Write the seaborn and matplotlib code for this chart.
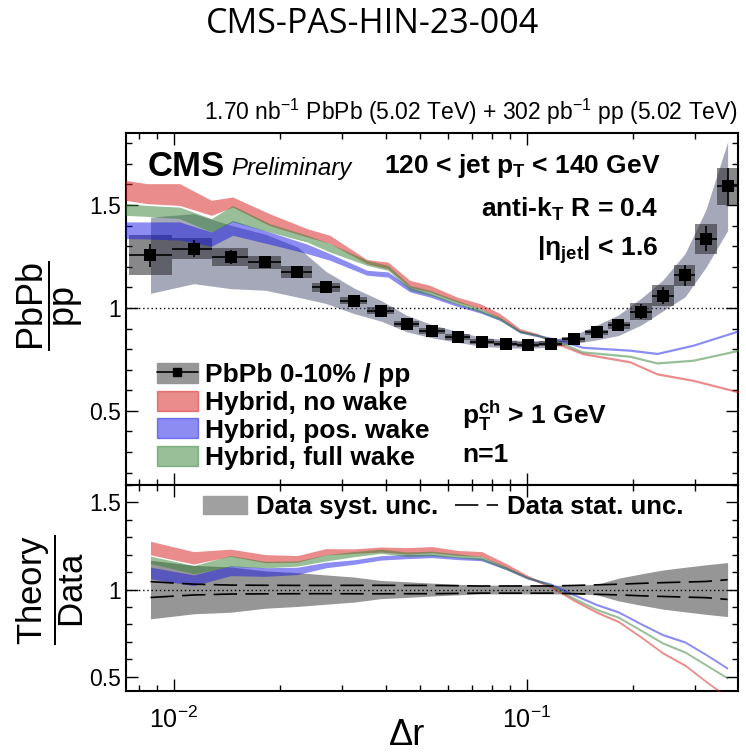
import numpy as np
import matplotlib
matplotlib.use("Agg")
import matplotlib.pyplot as plt
import seaborn as sns
from matplotlib.patches import Patch
from matplotlib.lines import Line2D
from matplotlib.ticker import LogLocator, MultipleLocator, NullFormatter, FuncFormatter

# ---------------- measurement: PbPb 0-10% / pp ----------------
dr = [0.0086, 0.0114, 0.0145, 0.0182, 0.0224, 0.0270, 0.0324, 0.0387, 0.0458, 0.0539,
      0.0639, 0.0746, 0.0873, 0.1008, 0.117, 0.136, 0.158, 0.182, 0.211, 0.243,
      0.281, 0.322, 0.371]
ratio = [1.256, 1.288, 1.248, 1.222, 1.175, 1.100, 1.035, 0.986, 0.924, 0.887,
         0.859, 0.835, 0.827, 0.822, 0.827, 0.847, 0.881, 0.916, 0.982, 1.060,
         1.159, 1.337, 1.591]
stat_err = [0.057, 0.040, 0.032, 0.030, 0.028, 0.026, 0.025, 0.024, 0.022, 0.021,
            0.019, 0.017, 0.017, 0.017, 0.017, 0.020, 0.024, 0.028, 0.035, 0.042,
            0.050, 0.062, 0.090]
box_err = [0.097, 0.052, 0.045, 0.032, 0.030, 0.020, 0.018, 0.017, 0.015, 0.015,
           0.013, 0.012, 0.012, 0.012, 0.012, 0.012, 0.013, 0.018, 0.042, 0.052,
           0.052, 0.073, 0.090]
syst_err = [0.185, 0.170, 0.154, 0.136, 0.122, 0.078, 0.062, 0.050, 0.040, 0.032,
            0.026, 0.022, 0.020, 0.018, 0.018, 0.020, 0.036, 0.050, 0.065, 0.075,
            0.105, 0.140, 0.215]
# relative systematic uncertainty shown in the Theory/Data panel
syst_rel = [0.168, 0.139, 0.130, 0.107, 0.097, 0.084, 0.072, 0.052, 0.045, 0.037,
            0.030, 0.025, 0.025, 0.025, 0.025, 0.025, 0.030, 0.065, 0.090, 0.112,
            0.128, 0.142, 0.155]

# ---------------- Hybrid model bands ----------------
hyb_dr = [0.0073, 0.0084, 0.0104, 0.0128, 0.0147, 0.0187, 0.0239, 0.0277, 0.0353, 0.0405,
          0.0467, 0.0532, 0.0635, 0.0738, 0.084, 0.0957, 0.107, 0.122, 0.144, 0.196,
          0.234, 0.296, 0.40]
nowake_hi = [1.620, 1.604, 1.604, 1.523, 1.539, 1.458, 1.385, 1.353, 1.235, 1.223,
             1.134, 1.110, 1.053, 1.021, 0.973, 0.900, 0.876, 0.832, 0.782, 0.742,
             0.683, 0.652, 0.595]
nowake_lo = [1.523, 1.507, 1.498, 1.450, 1.490, 1.400, 1.345, 1.313, 1.215, 1.190,
             1.100, 1.078, 1.029, 0.997, 0.949, 0.884, 0.866, 0.822, 0.775, 0.735,
             0.677, 0.645, 0.588]
poswake_hi = [1.418, 1.418, 1.418, 1.369, 1.425, 1.369, 1.310, 1.264, 1.183, 1.175,
              1.100, 1.070, 1.021, 0.989, 0.950, 0.890, 0.870, 0.850, 0.812, 0.798,
              0.782, 0.822, 0.893]
poswake_lo = [1.337, 1.335, 1.330, 1.300, 1.353, 1.310, 1.264, 1.232, 1.159, 1.150,
              1.078, 1.053, 1.008, 0.976, 0.940, 0.880, 0.862, 0.843, 0.806, 0.792,
              0.776, 0.816, 0.887]
fullwake_hi = [1.507, 1.498, 1.490, 1.434, 1.498, 1.410, 1.353, 1.313, 1.232, 1.207,
               1.110, 1.086, 1.037, 0.997, 0.956, 0.892, 0.872, 0.843, 0.790, 0.769,
               0.736, 0.749, 0.798]
fullwake_lo = [1.450, 1.445, 1.434, 1.369, 1.418, 1.369, 1.320, 1.272, 1.207, 1.183,
               1.086, 1.062, 1.018, 0.980, 0.940, 0.879, 0.864, 0.836, 0.783, 0.762,
               0.730, 0.743, 0.792]

model_labels = ["Hybrid, no wake", "Hybrid, pos. wake", "Hybrid, full wake"]
model_colors = [(0.85, 0.10, 0.10), (0.10, 0.10, 0.90), (0.20, 0.50, 0.20)]
model_bands = [(nowake_lo, nowake_hi), (poswake_lo, poswake_hi), (fullwake_lo, fullwake_hi)]

# ---------------- style ----------------
sns.set_theme(style="ticks")
plt.rcParams["font.family"] = ["Liberation Sans", "DejaVu Sans"]
plt.rcParams["mathtext.fontset"] = "custom"
plt.rcParams["mathtext.rm"] = "Liberation Sans"
plt.rcParams["mathtext.it"] = "Liberation Sans:italic"
plt.rcParams["mathtext.bf"] = "Liberation Sans:bold"
plt.rcParams["mathtext.default"] = "regular"
plt.rcParams["axes.linewidth"] = 1.5
plt.rcParams["text.color"] = "black"

x = np.array(dr)
y = np.array(ratio)
stat = np.array(stat_err)

# bin edges from neighbouring centres (geometric midpoints)
mid = np.sqrt(x[1:] * x[:-1])
edges = np.concatenate([[x[0] ** 2 / mid[0]], mid, [x[-1] ** 2 / mid[-1]]])
left, right = edges[:-1], edges[1:]


def widen(lo, hi, half):
    """Keep very narrow bands visible as thin strokes."""
    lo, hi = np.asarray(lo, float), np.asarray(hi, float)
    c = 0.5 * (lo + hi)
    return np.minimum(lo, c - half), np.maximum(hi, c + half)


W, H = 746, 752
fig = plt.figure(figsize=(W / 100, H / 100), dpi=100)
ax1 = fig.add_axes([126 / W, 1 - 485 / H, 612 / W, 352 / H])
ax2 = fig.add_axes([126 / W, 1 - 691 / H, 612 / W, 206 / H], sharex=ax1)

# ---------------- upper panel ----------------
ax1.fill_between(x, y - np.array(syst_err), y + np.array(syst_err),
                 color=(0.30, 0.32, 0.45), alpha=0.5, lw=0, zorder=1)
ax1.bar(left, 2 * np.array(box_err), width=right - left, bottom=y - np.array(box_err),
        align="edge", color=(0.15, 0.15, 0.17), alpha=0.55, lw=0, zorder=2)
for (lo, hi), c in zip(model_bands, model_colors):
    lo_w, hi_w = widen(lo, hi, 0.0055)
    ax1.fill_between(hyb_dr, lo_w, hi_w, color=c, alpha=0.5, lw=0, zorder=3)
ax1.errorbar(x, y, xerr=[x - left, right - x], yerr=stat, fmt="none",
             ecolor="black", elinewidth=1.2, capsize=0, zorder=4)
sns.scatterplot(x=x, y=y, marker="s", s=80, color="black", edgecolor="black",
                linewidth=0, ax=ax1, zorder=6, legend=False)
ax1.axhline(1.0, color="black", lw=1.0, ls=(0, (1, 2)), zorder=0)

# ---------------- lower panel ----------------
rel = np.array(syst_rel)
ax2.fill_between(x, 1 - rel, 1 + rel, color="#969696", lw=0, zorder=1)
for (lo, hi), c in zip(model_bands, model_colors):
    lo_r = np.interp(np.log(x), np.log(hyb_dr), lo) / y
    hi_r = np.interp(np.log(x), np.log(hyb_dr), hi) / y
    lo_r, hi_r = widen(lo_r, hi_r, 0.0065)
    ax2.fill_between(x, lo_r, hi_r, color=c, alpha=0.5, lw=0, zorder=3)
for sgn in (+1, -1):
    sns.lineplot(x=x, y=1 + sgn * stat / y, ax=ax2, color="black", lw=1.2,
                 linestyle=(0, (14, 5)), zorder=4)
ax2.axhline(1.0, color="black", lw=1.0, ls=(0, (1, 2)), zorder=2)

# ---------------- axes ----------------
for ax in (ax1, ax2):
    ax.set_xscale("log")
    ax.set_xlim(0.00733, 0.397)
    ax.xaxis.set_major_locator(LogLocator(base=10, numticks=10))
    ax.xaxis.set_minor_locator(LogLocator(base=10, subs=np.arange(2, 10), numticks=20))
    ax.xaxis.set_minor_formatter(NullFormatter())
    ax.yaxis.set_major_locator(MultipleLocator(0.5))
    ax.yaxis.set_minor_locator(MultipleLocator(0.1))
    ax.yaxis.set_major_formatter(FuncFormatter(lambda v, _: f"{v:g}"))
    ax.tick_params(which="both", direction="in", top=True, right=True, colors="black",
                   labelsize=16.5)
    ax.tick_params(which="major", length=8.6, width=1.0)
    ax.tick_params(which="minor", length=4.3, width=1.0)
    ax.set_xlabel("")
    ax.set_ylabel("")
    for s in ax.spines.values():
        s.set_color("black")
ax1.set_ylim(0.14, 1.85)
ax2.set_ylim(0.418, 1.6)
ax1.tick_params(labelbottom=False)
ax2.tick_params(axis="x", pad=11, labelsize=18)


def fpos(px, py):
    return px / W, 1 - py / H


# axis titles
fig.text(*fpos(50, 306), r"$\dfrac{PbPb}{pp}$", rotation=90, ha="center", va="center", fontsize=26)
fig.text(*fpos(50, 590), r"$\dfrac{Theory}{Data}$", rotation=90, ha="center", va="center", fontsize=25)
fig.text(*fpos(407, 745), "Δr", ha="center", va="baseline", fontsize=26)

# header lines
fig.text(*fpos(373, 33), "CMS-PAS-HIN-23-004", ha="center", va="baseline",
         fontsize=24.5, family=["Open Sans", "DejaVu Sans"])
fig.text(*fpos(738, 120), r"1.70 nb$^{-1}$ PbPb (5.02 TeV) + 302 pb$^{-1}$ pp (5.02 TeV)",
         ha="right", va="baseline", fontsize=16.5)

# in-plot annotations
fig.text(*fpos(148, 176), "CMS", ha="left", va="baseline", fontsize=25, fontweight="bold")
fig.text(*fpos(231, 175), "Preliminary", ha="left", va="baseline", fontsize=17.3, style="italic")
fig.text(*fpos(660, 173), r"120 < jet p$_T$ < 140 GeV", ha="right", va="baseline",
         fontsize=19, fontweight="bold")
fig.text(*fpos(658, 217), r"anti-k$_T$ R = 0.4", ha="right", va="baseline",
         fontsize=19, fontweight="bold")
fig.text(*fpos(658, 256), r"|η$_{jet}$| < 1.6", ha="right", va="baseline",
         fontsize=19, fontweight="bold")
fig.text(*fpos(462, 424), r"$p_T^{ch}$ > 1 GeV", ha="left", va="baseline",
         fontsize=19, fontweight="bold")
fig.text(*fpos(462, 462), "n=1", ha="left", va="baseline", fontsize=19, fontweight="bold")

# legends
data_handle = (Patch(facecolor="#969696", edgecolor="#969696"),
               Line2D([], [], color="black", lw=1.2, marker="s", markersize=6))
model_handles = [Patch(facecolor=c, edgecolor=c, alpha=0.5) for c in model_colors]
ax1.legend([data_handle] + model_handles, ["PbPb 0-10% / pp"] + model_labels,
           loc="upper left", bbox_to_anchor=(0.05, 0.347), frameon=False,
           prop={"size": 19, "weight": "bold"}, handlelength=1.55, handleheight=0.78,
           labelspacing=0.14, handletextpad=0.3, borderpad=0, borderaxespad=0)

ax2.legend([Patch(facecolor="#a0a0a0", edgecolor="#a0a0a0"),
            Line2D([], [], color="black", lw=1.2, linestyle=(0, (14, 5)))],
           ["Data syst. unc.", "Data stat. unc."], ncol=2,
           loc="upper left", bbox_to_anchor=(0.126, 0.952), frameon=False,
           prop={"size": 18.5, "weight": "bold"}, handlelength=1.7, handleheight=0.75,
           handletextpad=0.35, columnspacing=0.65, borderpad=0, borderaxespad=0)

fig.savefig("out.png", dpi=100)
